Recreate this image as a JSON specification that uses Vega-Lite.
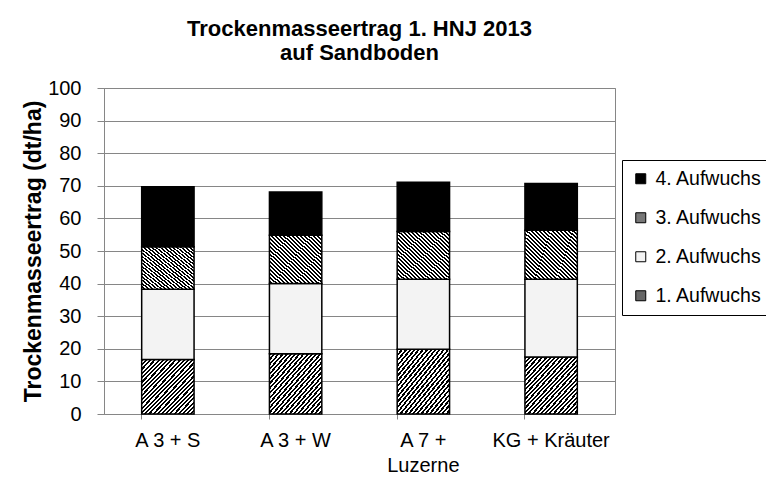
{
  "$schema": "https://vega.github.io/schema/vega-lite/v6.json",
  "autosize": {"type": "none"},
  "width": 511,
  "height": 326,
  "padding": {"left": 104, "top": 88, "right": 151, "bottom": 87},
  "background": "white",
  "title": {
    "text": ["Trockenmasseertrag 1. HNJ 2013", "auf Sandboden"],
    "font": "Liberation Sans",
    "fontSize": 22,
    "fontWeight": "bold",
    "lineHeight": 24,
    "color": "#000000",
    "anchor": "middle",
    "offset": 13
  },
  "data": {
    "values": [
      {"Variante": "A 3 + S", "Aufwuchs": "1. Aufwuchs", "Nr": 1, "Ertrag": 16.7},
      {"Variante": "A 3 + S", "Aufwuchs": "2. Aufwuchs", "Nr": 2, "Ertrag": 21.6},
      {"Variante": "A 3 + S", "Aufwuchs": "3. Aufwuchs", "Nr": 3, "Ertrag": 13.0},
      {"Variante": "A 3 + S", "Aufwuchs": "4. Aufwuchs", "Nr": 4, "Ertrag": 18.4},
      {"Variante": "A 3 + W", "Aufwuchs": "1. Aufwuchs", "Nr": 1, "Ertrag": 18.5},
      {"Variante": "A 3 + W", "Aufwuchs": "2. Aufwuchs", "Nr": 2, "Ertrag": 21.5},
      {"Variante": "A 3 + W", "Aufwuchs": "3. Aufwuchs", "Nr": 3, "Ertrag": 14.8},
      {"Variante": "A 3 + W", "Aufwuchs": "4. Aufwuchs", "Nr": 4, "Ertrag": 13.3},
      {"Variante": "A 7 + Luzerne", "Aufwuchs": "1. Aufwuchs", "Nr": 1, "Ertrag": 19.9},
      {"Variante": "A 7 + Luzerne", "Aufwuchs": "2. Aufwuchs", "Nr": 2, "Ertrag": 21.4},
      {"Variante": "A 7 + Luzerne", "Aufwuchs": "3. Aufwuchs", "Nr": 3, "Ertrag": 14.7},
      {"Variante": "A 7 + Luzerne", "Aufwuchs": "4. Aufwuchs", "Nr": 4, "Ertrag": 15.1},
      {"Variante": "KG + Kräuter", "Aufwuchs": "1. Aufwuchs", "Nr": 1, "Ertrag": 17.5},
      {"Variante": "KG + Kräuter", "Aufwuchs": "2. Aufwuchs", "Nr": 2, "Ertrag": 23.8},
      {"Variante": "KG + Kräuter", "Aufwuchs": "3. Aufwuchs", "Nr": 3, "Ertrag": 15.1},
      {"Variante": "KG + Kräuter", "Aufwuchs": "4. Aufwuchs", "Nr": 4, "Ertrag": 14.3}
    ]
  },
  "mark": {"type": "bar", "stroke": "#000000", "strokeWidth": 1.5},
  "encoding": {
    "x": {
      "field": "Variante",
      "type": "nominal",
      "sort": null,
      "scale": {"paddingInner": 0.59, "paddingOuter": 0.295},
      "axis": {
        "title": null,
        "labelAngle": 0,
        "labelFont": "Liberation Sans",
        "labelFontSize": 20,
        "labelColor": "#000000",
        "labelPadding": 11,
        "labelLineHeight": 25,
        "labelExpr": "datum.value == 'A 7 + Luzerne' ? ['A 7 +', 'Luzerne'] : datum.value",
        "tickSize": 5,
        "tickColor": "#868686",
        "domainColor": "#868686",
        "bandPosition": 0,
        "grid": false
      }
    },
    "y": {
      "field": "Ertrag",
      "type": "quantitative",
      "stack": "zero",
      "scale": {"domain": [0, 100], "nice": false},
      "axis": {
        "title": "Trockenmasseertrag (dt/ha)",
        "titleFont": "Liberation Sans",
        "titleFontSize": 23,
        "titleFontWeight": "bold",
        "titleColor": "#000000",
        "titlePadding": 2,
        "values": [0, 10, 20, 30, 40, 50, 60, 70, 80, 90, 100],
        "labelFont": "Liberation Sans",
        "labelFontSize": 20,
        "labelColor": "#000000",
        "labelPadding": 16,
        "tickSize": 7,
        "tickColor": "#868686",
        "domainColor": "#868686",
        "grid": true,
        "gridColor": "#868686",
        "gridOpacity": 1
      }
    },
    "fill": {
      "condition": [
        {"test": "datum.Nr == 3", "value": {"gradient": "linear", "x1": 1, "y1": 0, "x2": 0, "y2": 1, "stops": [
          {"offset": 0, "color": "#000"},
          {"offset": 0.02, "color": "#000"}, {"offset": 0.02, "color": "#fff"},
          {"offset": 0.04, "color": "#fff"}, {"offset": 0.04, "color": "#000"},
          {"offset": 0.06, "color": "#000"}, {"offset": 0.06, "color": "#fff"},
          {"offset": 0.08, "color": "#fff"}, {"offset": 0.08, "color": "#000"},
          {"offset": 0.1, "color": "#000"}, {"offset": 0.1, "color": "#fff"},
          {"offset": 0.12, "color": "#fff"}, {"offset": 0.12, "color": "#000"},
          {"offset": 0.14, "color": "#000"}, {"offset": 0.14, "color": "#fff"},
          {"offset": 0.16, "color": "#fff"}, {"offset": 0.16, "color": "#000"},
          {"offset": 0.18, "color": "#000"}, {"offset": 0.18, "color": "#fff"},
          {"offset": 0.2, "color": "#fff"}, {"offset": 0.2, "color": "#000"},
          {"offset": 0.22, "color": "#000"}, {"offset": 0.22, "color": "#fff"},
          {"offset": 0.24, "color": "#fff"}, {"offset": 0.24, "color": "#000"},
          {"offset": 0.26, "color": "#000"}, {"offset": 0.26, "color": "#fff"},
          {"offset": 0.28, "color": "#fff"}, {"offset": 0.28, "color": "#000"},
          {"offset": 0.3, "color": "#000"}, {"offset": 0.3, "color": "#fff"},
          {"offset": 0.32, "color": "#fff"}, {"offset": 0.32, "color": "#000"},
          {"offset": 0.34, "color": "#000"}, {"offset": 0.34, "color": "#fff"},
          {"offset": 0.36, "color": "#fff"}, {"offset": 0.36, "color": "#000"},
          {"offset": 0.38, "color": "#000"}, {"offset": 0.38, "color": "#fff"},
          {"offset": 0.4, "color": "#fff"}, {"offset": 0.4, "color": "#000"},
          {"offset": 0.42, "color": "#000"}, {"offset": 0.42, "color": "#fff"},
          {"offset": 0.44, "color": "#fff"}, {"offset": 0.44, "color": "#000"},
          {"offset": 0.46, "color": "#000"}, {"offset": 0.46, "color": "#fff"},
          {"offset": 0.48, "color": "#fff"}, {"offset": 0.48, "color": "#000"},
          {"offset": 0.5, "color": "#000"}, {"offset": 0.5, "color": "#fff"},
          {"offset": 0.52, "color": "#fff"}, {"offset": 0.52, "color": "#000"},
          {"offset": 0.54, "color": "#000"}, {"offset": 0.54, "color": "#fff"},
          {"offset": 0.56, "color": "#fff"}, {"offset": 0.56, "color": "#000"},
          {"offset": 0.58, "color": "#000"}, {"offset": 0.58, "color": "#fff"},
          {"offset": 0.6, "color": "#fff"}, {"offset": 0.6, "color": "#000"},
          {"offset": 0.62, "color": "#000"}, {"offset": 0.62, "color": "#fff"},
          {"offset": 0.64, "color": "#fff"}, {"offset": 0.64, "color": "#000"},
          {"offset": 0.66, "color": "#000"}, {"offset": 0.66, "color": "#fff"},
          {"offset": 0.68, "color": "#fff"}, {"offset": 0.68, "color": "#000"},
          {"offset": 0.7, "color": "#000"}, {"offset": 0.7, "color": "#fff"},
          {"offset": 0.72, "color": "#fff"}, {"offset": 0.72, "color": "#000"},
          {"offset": 0.74, "color": "#000"}, {"offset": 0.74, "color": "#fff"},
          {"offset": 0.76, "color": "#fff"}, {"offset": 0.76, "color": "#000"},
          {"offset": 0.78, "color": "#000"}, {"offset": 0.78, "color": "#fff"},
          {"offset": 0.8, "color": "#fff"}, {"offset": 0.8, "color": "#000"},
          {"offset": 0.82, "color": "#000"}, {"offset": 0.82, "color": "#fff"},
          {"offset": 0.84, "color": "#fff"}, {"offset": 0.84, "color": "#000"},
          {"offset": 0.86, "color": "#000"}, {"offset": 0.86, "color": "#fff"},
          {"offset": 0.88, "color": "#fff"}, {"offset": 0.88, "color": "#000"},
          {"offset": 0.9, "color": "#000"}, {"offset": 0.9, "color": "#fff"},
          {"offset": 0.92, "color": "#fff"}, {"offset": 0.92, "color": "#000"},
          {"offset": 0.94, "color": "#000"}, {"offset": 0.94, "color": "#fff"},
          {"offset": 0.96, "color": "#fff"}, {"offset": 0.96, "color": "#000"},
          {"offset": 0.98, "color": "#000"}, {"offset": 0.98, "color": "#fff"},
          {"offset": 1, "color": "#fff"}
        ]}},
        {"test": "datum.Nr == 1", "value": {"gradient": "linear", "x1": 0, "y1": 0, "x2": 1, "y2": 1, "stops": [
          {"offset": 0, "color": "#000"},
          {"offset": 0.02, "color": "#000"}, {"offset": 0.02, "color": "#fff"},
          {"offset": 0.04, "color": "#fff"}, {"offset": 0.04, "color": "#000"},
          {"offset": 0.06, "color": "#000"}, {"offset": 0.06, "color": "#fff"},
          {"offset": 0.08, "color": "#fff"}, {"offset": 0.08, "color": "#000"},
          {"offset": 0.1, "color": "#000"}, {"offset": 0.1, "color": "#fff"},
          {"offset": 0.12, "color": "#fff"}, {"offset": 0.12, "color": "#000"},
          {"offset": 0.14, "color": "#000"}, {"offset": 0.14, "color": "#fff"},
          {"offset": 0.16, "color": "#fff"}, {"offset": 0.16, "color": "#000"},
          {"offset": 0.18, "color": "#000"}, {"offset": 0.18, "color": "#fff"},
          {"offset": 0.2, "color": "#fff"}, {"offset": 0.2, "color": "#000"},
          {"offset": 0.22, "color": "#000"}, {"offset": 0.22, "color": "#fff"},
          {"offset": 0.24, "color": "#fff"}, {"offset": 0.24, "color": "#000"},
          {"offset": 0.26, "color": "#000"}, {"offset": 0.26, "color": "#fff"},
          {"offset": 0.28, "color": "#fff"}, {"offset": 0.28, "color": "#000"},
          {"offset": 0.3, "color": "#000"}, {"offset": 0.3, "color": "#fff"},
          {"offset": 0.32, "color": "#fff"}, {"offset": 0.32, "color": "#000"},
          {"offset": 0.34, "color": "#000"}, {"offset": 0.34, "color": "#fff"},
          {"offset": 0.36, "color": "#fff"}, {"offset": 0.36, "color": "#000"},
          {"offset": 0.38, "color": "#000"}, {"offset": 0.38, "color": "#fff"},
          {"offset": 0.4, "color": "#fff"}, {"offset": 0.4, "color": "#000"},
          {"offset": 0.42, "color": "#000"}, {"offset": 0.42, "color": "#fff"},
          {"offset": 0.44, "color": "#fff"}, {"offset": 0.44, "color": "#000"},
          {"offset": 0.46, "color": "#000"}, {"offset": 0.46, "color": "#fff"},
          {"offset": 0.48, "color": "#fff"}, {"offset": 0.48, "color": "#000"},
          {"offset": 0.5, "color": "#000"}, {"offset": 0.5, "color": "#fff"},
          {"offset": 0.52, "color": "#fff"}, {"offset": 0.52, "color": "#000"},
          {"offset": 0.54, "color": "#000"}, {"offset": 0.54, "color": "#fff"},
          {"offset": 0.56, "color": "#fff"}, {"offset": 0.56, "color": "#000"},
          {"offset": 0.58, "color": "#000"}, {"offset": 0.58, "color": "#fff"},
          {"offset": 0.6, "color": "#fff"}, {"offset": 0.6, "color": "#000"},
          {"offset": 0.62, "color": "#000"}, {"offset": 0.62, "color": "#fff"},
          {"offset": 0.64, "color": "#fff"}, {"offset": 0.64, "color": "#000"},
          {"offset": 0.66, "color": "#000"}, {"offset": 0.66, "color": "#fff"},
          {"offset": 0.68, "color": "#fff"}, {"offset": 0.68, "color": "#000"},
          {"offset": 0.7, "color": "#000"}, {"offset": 0.7, "color": "#fff"},
          {"offset": 0.72, "color": "#fff"}, {"offset": 0.72, "color": "#000"},
          {"offset": 0.74, "color": "#000"}, {"offset": 0.74, "color": "#fff"},
          {"offset": 0.76, "color": "#fff"}, {"offset": 0.76, "color": "#000"},
          {"offset": 0.78, "color": "#000"}, {"offset": 0.78, "color": "#fff"},
          {"offset": 0.8, "color": "#fff"}, {"offset": 0.8, "color": "#000"},
          {"offset": 0.82, "color": "#000"}, {"offset": 0.82, "color": "#fff"},
          {"offset": 0.84, "color": "#fff"}, {"offset": 0.84, "color": "#000"},
          {"offset": 0.86, "color": "#000"}, {"offset": 0.86, "color": "#fff"},
          {"offset": 0.88, "color": "#fff"}, {"offset": 0.88, "color": "#000"},
          {"offset": 0.9, "color": "#000"}, {"offset": 0.9, "color": "#fff"},
          {"offset": 0.92, "color": "#fff"}, {"offset": 0.92, "color": "#000"},
          {"offset": 0.94, "color": "#000"}, {"offset": 0.94, "color": "#fff"},
          {"offset": 0.96, "color": "#fff"}, {"offset": 0.96, "color": "#000"},
          {"offset": 0.98, "color": "#000"}, {"offset": 0.98, "color": "#fff"},
          {"offset": 1, "color": "#fff"}
        ]}}
      ],
      "field": "Aufwuchs",
      "type": "nominal",
      "scale": {
        "domain": ["4. Aufwuchs", "3. Aufwuchs", "2. Aufwuchs", "1. Aufwuchs"],
        "range": ["#000000", "#777777", "#f3f3f3", "#666666"]
      },
      "legend": {
        "title": null,
        "orient": "none",
        "legendX": 518,
        "legendY": 72,
        "padding": 9,
        "strokeColor": "#000000",
        "fillColor": "#ffffff",
        "symbolType": "square",
        "symbolSize": 100,
        "symbolStrokeColor": "#000000",
        "symbolStrokeWidth": 1,
        "labelFont": "Liberation Sans",
        "labelFontSize": 19.5,
        "labelColor": "#000000",
        "labelOffset": 5,
        "rowPadding": 18
      }
    },
    "order": {"field": "Nr", "type": "quantitative", "sort": "ascending"}
  },
  "config": {
    "view": {"stroke": "#868686", "strokeWidth": 1},
    "axis": {"domainWidth": 1, "tickWidth": 1, "gridWidth": 1}
  }
}
